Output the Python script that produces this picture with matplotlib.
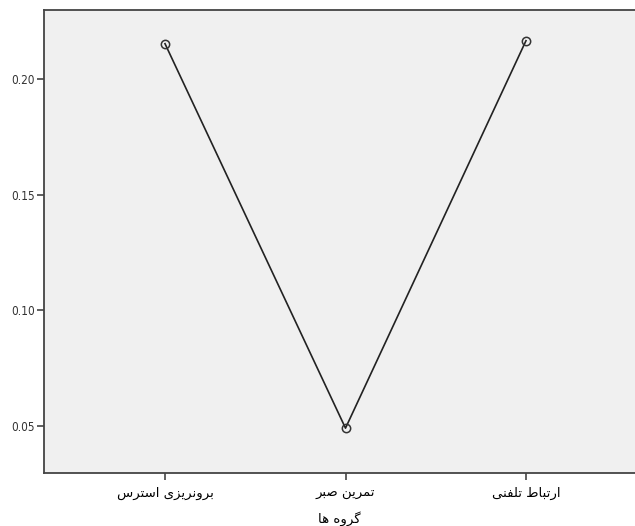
import matplotlib
matplotlib.use("Agg")
import matplotlib.pyplot as plt

categories = ["برونریزی استرس", "تمرین صبر", "ارتباط تلفنی"]
values = [0.2155, 0.0490, 0.2168]
y_ticks = [0.05, 0.10, 0.15, 0.20]
y_tick_labels = ["0.05", "0.10", "0.15", "0.20"]
x_title = "گروه ها"

# Minimal Arabic/Persian shaping (matplotlib has no complex text layout)
FORMS = {
    "ا": ("\uFE8D", "\uFE8E", None, None),
    "ب": ("\uFE8F", "\uFE90", "\uFE91", "\uFE92"),
    "ت": ("\uFE95", "\uFE96", "\uFE97", "\uFE98"),
    "ر": ("\uFEAD", "\uFEAE", None, None),
    "ز": ("\uFEAF", "\uFEB0", None, None),
    "س": ("\uFEB1", "\uFEB2", "\uFEB3", "\uFEB4"),
    "ص": ("\uFEB9", "\uFEBA", "\uFEBB", "\uFEBC"),
    "ط": ("\uFEC1", "\uFEC2", "\uFEC3", "\uFEC4"),
    "ف": ("\uFED1", "\uFED2", "\uFED3", "\uFED4"),
    "ل": ("\uFEDD", "\uFEDE", "\uFEDF", "\uFEE0"),
    "م": ("\uFEE1", "\uFEE2", "\uFEE3", "\uFEE4"),
    "ن": ("\uFEE5", "\uFEE6", "\uFEE7", "\uFEE8"),
    "ه": ("\uFEE9", "\uFEEA", "\uFEEB", "\uFEEC"),
    "و": ("\uFEED", "\uFEEE", None, None),
    "ی": ("\uFBFC", "\uFBFD", "\uFBFE", "\uFBFF"),
    "گ": ("\uFB92", "\uFB93", "\uFB94", "\uFB95"),
}


def joins_left(ch):
    f = FORMS.get(ch)
    return f is not None and f[2] is not None


def shape(text):
    out = []
    n = len(text)
    for i, ch in enumerate(text):
        f = FORMS.get(ch)
        if f is None:
            out.append(ch)
            continue
        prev_joins = i > 0 and joins_left(text[i - 1])
        next_joins = i < n - 1 and text[i + 1] in FORMS and joins_left(ch)
        if prev_joins and next_joins:
            out.append(f[3])
        elif prev_joins:
            out.append(f[1])
        elif next_joins:
            out.append(f[2])
        else:
            out.append(f[0])
    return "".join(reversed(out))


fig = plt.figure(figsize=(6.35, 5.26), dpi=100)
ax = fig.add_axes([0.070, 0.1013, 0.930, 0.8797])
ax.set_facecolor("#f0f0f0")

x = list(range(len(categories)))
ax.plot(x, values, color="#222222", linewidth=1.2, marker="o", markersize=6,
        markerfacecolor="none", markeredgecolor="#333333", markeredgewidth=1.1)

ax.set_xlim(-0.668, 2.604)
ax.set_ylim(0.0297, 0.2301)

ax.set_yticks(y_ticks)
ax.set_yticklabels(y_tick_labels, family=["DejaVu Sans"], stretch="condensed",
                   fontsize=8.5, color="#333333")
ax.set_xticks(x)
ax.set_xticklabels([shape(c) for c in categories], family=["DejaVu Sans"],
                   fontsize=9.5, color="#000000")
ax.set_xlabel(shape(x_title), family=["DejaVu Sans"], fontsize=9.5, color="#000000",
              labelpad=8)

for s in ["left", "bottom", "top"]:
    ax.spines[s].set_color("#444444")
    ax.spines[s].set_linewidth(1.3)
ax.spines["right"].set_visible(False)
ax.tick_params(axis="both", direction="out", length=5, width=1.2, color="#444444", pad=2)
ax.tick_params(axis="x", pad=5)

fig.savefig("out.png", dpi=100, facecolor="white")
